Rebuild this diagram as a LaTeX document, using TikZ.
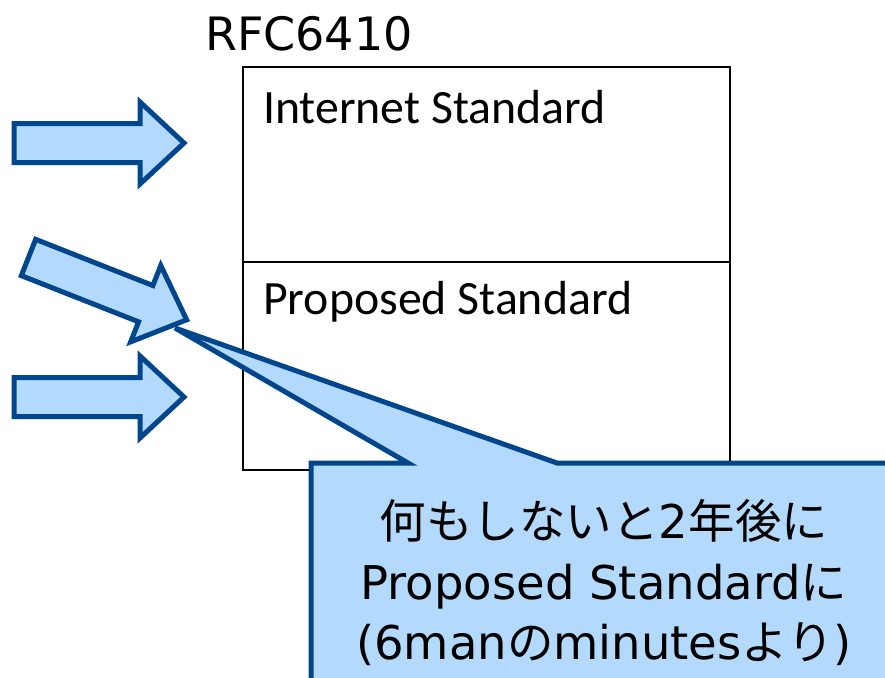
\documentclass[tikz,border=0pt]{standalone}
\usepackage{fontspec}
\newfontfamily\meiryo{DejaVu Sans}
\newfontfamily\jp{Noto Sans CJK JP}
\newfontfamily\calibrifont{Carlito}
\definecolor{arrowfill}{RGB}{179,217,252}
\definecolor{arrowline}{RGB}{0,70,140}
\tikzset{
  bigarrow/.style={draw=arrowline, fill=arrowfill, line width=5pt, line join=miter},
  stdbox/.style={draw=black, line width=2pt, inner sep=0pt},
  boxlabel/.style={anchor=base west, inner sep=0pt, font=\calibrifont\fontsize{47.8}{57}\selectfont},
  notetext/.style={anchor=base, inner sep=0pt, font=\meiryo\fontsize{46.5}{55}\selectfont},
}
\begin{document}
\begin{tikzpicture}[x=1pt, y=-1pt]
\clip (0,0) rectangle (885,677);
\fill[white] (0,0) rectangle (885,677);

% RFC 6410 maturity levels
\node[anchor=base west, inner sep=0pt, font=\meiryo\fontsize{46}{55}\selectfont] (rfc) at (205,50) {RFC6410};
\draw[stdbox] (243,67) rectangle (730,262);
\draw[stdbox] (243,262) rectangle (730,470);
\node[boxlabel] (inettext) at (263,123) {Internet Standard};
\node[boxlabel] (proptext) at (263,314) {Proposed Standard};

% block arrows pointing into the levels
\foreach \sx/\sy/\ang in {14/143/0, 28.5/257.5/-21.5, 14/397/0} {
  \begin{scope}[shift={(\sx,\sy)}, rotate=\ang]
    \draw[bigarrow] (0,-19.5) -- (126,-19.5) -- (126,-41) -- (170,0)
      -- (126,41) -- (126,19.5) -- (0,19.5) -- cycle;
  \end{scope}
}

% speech-bubble note
\coordinate (tip) at (175,328);
\draw[bigarrow] (311,463) -- (408,463) -- (tip) -- (557,463) -- (910,463)
  -- (910,700) -- (311,700) -- cycle;
\node[notetext] (note1) at (604,538) {{\jp 何もしないと}2{\jp 年後に}};
\node[notetext] (note2) at (604,599) {Proposed Standard{\jp に}};
\node[notetext] (note3) at (604,659) {(6man{\jp の}minutes{\jp より})};
\end{tikzpicture}
\end{document}
